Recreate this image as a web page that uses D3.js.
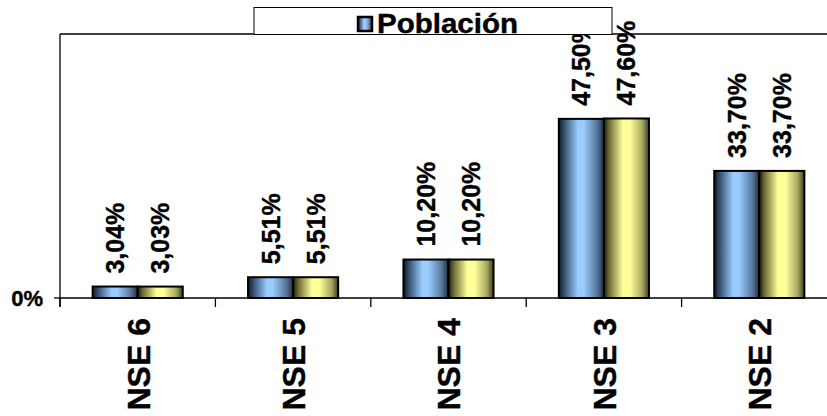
<!DOCTYPE html>
<html><head><meta charset="utf-8">
<script src="https://cdn.jsdelivr.net/npm/d3@7"></script>
<style>body{margin:0;background:#fff}svg{display:block}text{font-family:"Liberation Sans",Arimo,sans-serif;font-weight:bold;fill:#000;stroke:#000;stroke-width:0.4px}</style>
</head><body>
<script>
const categories = ["NSE 6","NSE 5","NSE 4","NSE 3","NSE 2"];
const seriesBlue = [3.04, 5.51, 10.20, 47.50, 33.70];
const seriesYellow = [3.03, 5.51, 10.20, 47.60, 33.70];
const blueLabels = ["3,04%","5,51%","10,20%","47,50%","33,70%"];
const yellowLabels = ["3,03%","5,51%","10,20%","47,60%","33,70%"];
const yTicks = [0];
const legendLabel = "Población";

const W = 827, H = 416;
const svg = d3.select("body").append("svg").attr("width", W).attr("height", H);
const pLeft = 60, pRight = 837, pTop = 34, pBottom = 298;

const defs = svg.append("defs");
function grad(id, stops){
  const g = defs.append("linearGradient").attr("id", id).attr("x1","0%").attr("x2","100%").attr("y1","0%").attr("y2","0%");
  stops.forEach(s => g.append("stop").attr("offset", s[0]).attr("stop-color", s[1]));
}
grad("gBlue", [[0,"#0e1822"],[0.12,"#34506e"],[0.42,"#99ccff"],[0.55,"#99ccff"],[0.85,"#56779a"],[1,"#1e2c3c"]]);
grad("gYellow", [[0,"#1e1e0a"],[0.12,"#6e6e38"],[0.42,"#ffff99"],[0.58,"#ffff99"],[0.85,"#a8a862"],[1,"#3c3c20"]]);

const y = d3.scaleLinear().domain([0, 70]).range([pBottom, pTop]);
const x0 = d3.scaleBand().domain(categories).range([pLeft, pRight]).paddingInner(0.42).paddingOuter(0.21);
const series = [{key:"b", vals:seriesBlue, labels:blueLabels, fill:"url(#gBlue)"},
                {key:"y", vals:seriesYellow, labels:yellowLabels, fill:"url(#gYellow)"}];
const x1 = d3.scaleBand().domain(series.map(s=>s.key)).range([0, x0.bandwidth()]);
const step = x0.step();

// plot frame: top border and left axis
svg.append("line").attr("x1", pLeft).attr("x2", W).attr("y1", pTop).attr("y2", pTop).attr("stroke","#000").attr("stroke-width",1.3);
svg.append("line").attr("x1", pLeft).attr("x2", pLeft).attr("y1", pTop).attr("y2", pBottom+9).attr("stroke","#000").attr("stroke-width",1.3);

// y ticks
yTicks.forEach(t => {
  svg.append("line").attr("x1", pLeft-6).attr("x2", pLeft).attr("y1", y(t)).attr("y2", y(t)).attr("stroke","#000").attr("stroke-width",1.3);
  svg.append("text").attr("x", 43).attr("y", y(t)).attr("dy","0.36em").attr("text-anchor","end").style("font-size","22px").text(t+"%");
});

// bars
categories.forEach((c, i) => {
  series.forEach(s => {
    const v = s.vals[i];
    svg.append("rect").attr("x", x0(c)+x1(s.key)).attr("y", y(v)).attr("width", x1.bandwidth()).attr("height", y(0)-y(v))
      .attr("fill", s.fill).attr("stroke","#000").attr("stroke-width",2);
  });
});

// baseline
svg.append("line").attr("x1", pLeft).attr("x2", W).attr("y1", pBottom).attr("y2", pBottom).attr("stroke","#000").attr("stroke-width",1.3);
// category ticks
categories.forEach((c, i) => {
  const bx = x0(c) + x0.bandwidth()/2 - step/2;
  svg.append("line").attr("x1", bx).attr("x2", bx).attr("y1", pBottom).attr("y2", pBottom+9).attr("stroke","#000").attr("stroke-width",1.3);
});

// value labels
categories.forEach((c, i) => {
  series.forEach(s => {
    const cx = x0(c)+x1(s.key)+x1.bandwidth()/2;
    const yy = y(s.vals[i]) - 13;
    svg.append("text").attr("transform", `translate(${cx},${yy}) rotate(-90)`).attr("dy","0.36em")
      .attr("text-anchor","start").style("font-size","25px").text(s.labels[i]);
  });
});

// category labels
categories.forEach(c => {
  const cx = x0(c) + x0.bandwidth()/2;
  svg.append("text").attr("transform", `translate(${cx},318) rotate(-90)`).attr("dy","0.37em")
    .attr("text-anchor","end").style("font-size","32px").text(c);
});

// legend
const lg = svg.append("g");
lg.append("rect").attr("x",254).attr("y",7.5).attr("width",358).attr("height",27).attr("fill","#fff").attr("stroke","#000").attr("stroke-width",1);
lg.append("rect").attr("x",358).attr("y",17).attr("width",14).attr("height",14).attr("fill","url(#gBlue)").attr("stroke","#000").attr("stroke-width",2.5);
lg.append("text").attr("x",377).attr("y",33).attr("textLength",141).attr("lengthAdjust","spacingAndGlyphs").style("font-size","28px").text(legendLabel);
</script>
</body></html>
